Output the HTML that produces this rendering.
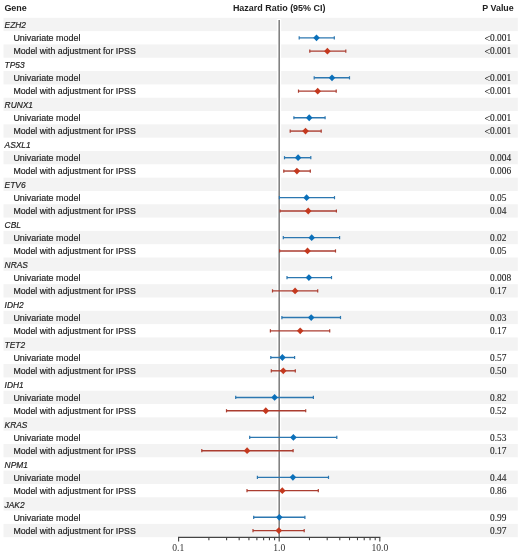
<!DOCTYPE html><html><head><meta charset="utf-8"><style>html,body{margin:0;padding:0;background:#fff;}svg{display:block;will-change:transform;}</style></head><body>
<svg width="520" height="552" viewBox="0 0 520 552">
<rect x="0" y="0" width="520" height="552" fill="#fff"/>
<rect x="3.5" y="17.80" width="514.30" height="13.318" fill="#f3f3f3"/>
<rect x="3.5" y="44.44" width="514.30" height="13.318" fill="#f3f3f3"/>
<rect x="3.5" y="71.07" width="514.30" height="13.318" fill="#f3f3f3"/>
<rect x="3.5" y="97.71" width="514.30" height="13.318" fill="#f3f3f3"/>
<rect x="3.5" y="124.34" width="514.30" height="13.318" fill="#f3f3f3"/>
<rect x="3.5" y="150.98" width="514.30" height="13.318" fill="#f3f3f3"/>
<rect x="3.5" y="177.62" width="514.30" height="13.318" fill="#f3f3f3"/>
<rect x="3.5" y="204.25" width="514.30" height="13.318" fill="#f3f3f3"/>
<rect x="3.5" y="230.89" width="514.30" height="13.318" fill="#f3f3f3"/>
<rect x="3.5" y="257.52" width="514.30" height="13.318" fill="#f3f3f3"/>
<rect x="3.5" y="284.16" width="514.30" height="13.318" fill="#f3f3f3"/>
<rect x="3.5" y="310.80" width="514.30" height="13.318" fill="#f3f3f3"/>
<rect x="3.5" y="337.43" width="514.30" height="13.318" fill="#f3f3f3"/>
<rect x="3.5" y="364.07" width="514.30" height="13.318" fill="#f3f3f3"/>
<rect x="3.5" y="390.70" width="514.30" height="13.318" fill="#f3f3f3"/>
<rect x="3.5" y="417.34" width="514.30" height="13.318" fill="#f3f3f3"/>
<rect x="3.5" y="443.98" width="514.30" height="13.318" fill="#f3f3f3"/>
<rect x="3.5" y="470.61" width="514.30" height="13.318" fill="#f3f3f3"/>
<rect x="3.5" y="497.25" width="514.30" height="13.318" fill="#f3f3f3"/>
<rect x="3.5" y="523.88" width="514.30" height="13.318" fill="#f3f3f3"/>
<g font-family="Liberation Sans, sans-serif" font-weight="bold" font-size="9.4" fill="#222">
<text x="4.4" y="11" textLength="22.4" lengthAdjust="spacingAndGlyphs">Gene</text>
<text x="232.90" y="11" textLength="92.6" lengthAdjust="spacingAndGlyphs">Hazard Ratio (95% CI)</text>
<text x="482.3" y="11" textLength="31.4" lengthAdjust="spacingAndGlyphs">P Value</text>
</g>
<g font-family="Liberation Sans, sans-serif" font-size="8.7" fill="#222" stroke="#222" stroke-width="0.18">
<text x="4.6" y="27.57" font-style="italic" font-size="8.4">EZH2</text>
<text x="13.4" y="40.90" textLength="67.0" lengthAdjust="spacingAndGlyphs">Univariate model</text>
<text x="13.4" y="54.24" textLength="122.4" lengthAdjust="spacingAndGlyphs">Model with adjustment for IPSS</text>
<text x="4.6" y="67.57" font-style="italic" font-size="8.4">TP53</text>
<text x="13.4" y="80.90" textLength="67.0" lengthAdjust="spacingAndGlyphs">Univariate model</text>
<text x="13.4" y="94.23" textLength="122.4" lengthAdjust="spacingAndGlyphs">Model with adjustment for IPSS</text>
<text x="4.6" y="107.57" font-style="italic" font-size="8.4">RUNX1</text>
<text x="13.4" y="120.90" textLength="67.0" lengthAdjust="spacingAndGlyphs">Univariate model</text>
<text x="13.4" y="134.23" textLength="122.4" lengthAdjust="spacingAndGlyphs">Model with adjustment for IPSS</text>
<text x="4.6" y="147.57" font-style="italic" font-size="8.4">ASXL1</text>
<text x="13.4" y="160.90" textLength="67.0" lengthAdjust="spacingAndGlyphs">Univariate model</text>
<text x="13.4" y="174.23" textLength="122.4" lengthAdjust="spacingAndGlyphs">Model with adjustment for IPSS</text>
<text x="4.6" y="187.57" font-style="italic" font-size="8.4">ETV6</text>
<text x="13.4" y="200.90" textLength="67.0" lengthAdjust="spacingAndGlyphs">Univariate model</text>
<text x="13.4" y="214.23" textLength="122.4" lengthAdjust="spacingAndGlyphs">Model with adjustment for IPSS</text>
<text x="4.6" y="227.56" font-style="italic" font-size="8.4">CBL</text>
<text x="13.4" y="240.90" textLength="67.0" lengthAdjust="spacingAndGlyphs">Univariate model</text>
<text x="13.4" y="254.23" textLength="122.4" lengthAdjust="spacingAndGlyphs">Model with adjustment for IPSS</text>
<text x="4.6" y="267.56" font-style="italic" font-size="8.4">NRAS</text>
<text x="13.4" y="280.90" textLength="67.0" lengthAdjust="spacingAndGlyphs">Univariate model</text>
<text x="13.4" y="294.23" textLength="122.4" lengthAdjust="spacingAndGlyphs">Model with adjustment for IPSS</text>
<text x="4.6" y="307.56" font-style="italic" font-size="8.4">IDH2</text>
<text x="13.4" y="320.90" textLength="67.0" lengthAdjust="spacingAndGlyphs">Univariate model</text>
<text x="13.4" y="334.23" textLength="122.4" lengthAdjust="spacingAndGlyphs">Model with adjustment for IPSS</text>
<text x="4.6" y="347.56" font-style="italic" font-size="8.4">TET2</text>
<text x="13.4" y="360.90" textLength="67.0" lengthAdjust="spacingAndGlyphs">Univariate model</text>
<text x="13.4" y="374.23" textLength="122.4" lengthAdjust="spacingAndGlyphs">Model with adjustment for IPSS</text>
<text x="4.6" y="387.56" font-style="italic" font-size="8.4">IDH1</text>
<text x="13.4" y="400.89" textLength="67.0" lengthAdjust="spacingAndGlyphs">Univariate model</text>
<text x="13.4" y="414.23" textLength="122.4" lengthAdjust="spacingAndGlyphs">Model with adjustment for IPSS</text>
<text x="4.6" y="427.56" font-style="italic" font-size="8.4">KRAS</text>
<text x="13.4" y="440.89" textLength="67.0" lengthAdjust="spacingAndGlyphs">Univariate model</text>
<text x="13.4" y="454.23" textLength="122.4" lengthAdjust="spacingAndGlyphs">Model with adjustment for IPSS</text>
<text x="4.6" y="467.56" font-style="italic" font-size="8.4">NPM1</text>
<text x="13.4" y="480.89" textLength="67.0" lengthAdjust="spacingAndGlyphs">Univariate model</text>
<text x="13.4" y="494.23" textLength="122.4" lengthAdjust="spacingAndGlyphs">Model with adjustment for IPSS</text>
<text x="4.6" y="507.56" font-style="italic" font-size="8.4">JAK2</text>
<text x="13.4" y="520.89" textLength="67.0" lengthAdjust="spacingAndGlyphs">Univariate model</text>
<text x="13.4" y="534.22" textLength="122.4" lengthAdjust="spacingAndGlyphs">Model with adjustment for IPSS</text>
</g>
<g font-family="Liberation Serif, serif" font-size="9.4" fill="#222" stroke="#222" stroke-width="0.1">
<text x="490.2" y="42.10" text-anchor="end" font-size="10.2">&lt;</text>
<text x="490" y="40.90">0.001</text>
<text x="490.2" y="55.44" text-anchor="end" font-size="10.2">&lt;</text>
<text x="490" y="54.24">0.001</text>
<text x="490.2" y="82.10" text-anchor="end" font-size="10.2">&lt;</text>
<text x="490" y="80.90">0.001</text>
<text x="490.2" y="95.44" text-anchor="end" font-size="10.2">&lt;</text>
<text x="490" y="94.24">0.001</text>
<text x="490.2" y="122.10" text-anchor="end" font-size="10.2">&lt;</text>
<text x="490" y="120.90">0.001</text>
<text x="490.2" y="135.43" text-anchor="end" font-size="10.2">&lt;</text>
<text x="490" y="134.23">0.001</text>
<text x="490" y="160.90">0.004</text>
<text x="490" y="174.23">0.006</text>
<text x="490" y="200.90">0.05</text>
<text x="490" y="214.23">0.04</text>
<text x="490" y="240.90">0.02</text>
<text x="490" y="254.23">0.05</text>
<text x="490" y="280.90">0.008</text>
<text x="490" y="294.23">0.17</text>
<text x="490" y="320.90">0.03</text>
<text x="490" y="334.23">0.17</text>
<text x="490" y="360.89">0.57</text>
<text x="490" y="374.23">0.50</text>
<text x="490" y="400.89">0.82</text>
<text x="490" y="414.23">0.52</text>
<text x="490" y="440.89">0.53</text>
<text x="490" y="454.23">0.17</text>
<text x="490" y="480.89">0.44</text>
<text x="490" y="494.23">0.86</text>
<text x="490" y="520.89">0.99</text>
<text x="490" y="534.22">0.97</text>
</g>
<rect x="276.8" y="19.0" width="4.4" height="518.20" fill="#fff"/>
<line x1="279.2" y1="19.9" x2="279.2" y2="537.4" stroke="#828282" stroke-width="1.6"/>
<line x1="178.0" y1="537.4" x2="380.4" y2="537.4" stroke="#444" stroke-width="1.3"/>
<line x1="178.60" y1="537.4" x2="178.60" y2="541.6" stroke="#444" stroke-width="1.1"/>
<line x1="208.88" y1="537.4" x2="208.88" y2="540.1999999999999" stroke="#444" stroke-width="1.1"/>
<line x1="226.60" y1="537.4" x2="226.60" y2="540.1999999999999" stroke="#444" stroke-width="1.1"/>
<line x1="239.17" y1="537.4" x2="239.17" y2="540.1999999999999" stroke="#444" stroke-width="1.1"/>
<line x1="248.92" y1="537.4" x2="248.92" y2="540.1999999999999" stroke="#444" stroke-width="1.1"/>
<line x1="256.88" y1="537.4" x2="256.88" y2="540.1999999999999" stroke="#444" stroke-width="1.1"/>
<line x1="263.62" y1="537.4" x2="263.62" y2="540.1999999999999" stroke="#444" stroke-width="1.1"/>
<line x1="269.45" y1="537.4" x2="269.45" y2="540.1999999999999" stroke="#444" stroke-width="1.1"/>
<line x1="274.60" y1="537.4" x2="274.60" y2="540.1999999999999" stroke="#444" stroke-width="1.1"/>
<line x1="279.20" y1="537.4" x2="279.20" y2="541.6" stroke="#444" stroke-width="1.1"/>
<line x1="309.48" y1="537.4" x2="309.48" y2="540.1999999999999" stroke="#444" stroke-width="1.1"/>
<line x1="327.20" y1="537.4" x2="327.20" y2="540.1999999999999" stroke="#444" stroke-width="1.1"/>
<line x1="339.77" y1="537.4" x2="339.77" y2="540.1999999999999" stroke="#444" stroke-width="1.1"/>
<line x1="349.52" y1="537.4" x2="349.52" y2="540.1999999999999" stroke="#444" stroke-width="1.1"/>
<line x1="357.48" y1="537.4" x2="357.48" y2="540.1999999999999" stroke="#444" stroke-width="1.1"/>
<line x1="364.22" y1="537.4" x2="364.22" y2="540.1999999999999" stroke="#444" stroke-width="1.1"/>
<line x1="370.05" y1="537.4" x2="370.05" y2="540.1999999999999" stroke="#444" stroke-width="1.1"/>
<line x1="375.20" y1="537.4" x2="375.20" y2="540.1999999999999" stroke="#444" stroke-width="1.1"/>
<line x1="379.80" y1="537.4" x2="379.80" y2="541.6" stroke="#444" stroke-width="1.1"/>
<g font-family="Liberation Serif, serif" font-size="9.6" fill="#333" text-anchor="middle">
<text x="178.20" y="550.5">0.1</text>
<text x="279.20" y="550.5">1.0</text>
<text x="379.80" y="550.5">10.0</text>
</g>
<line x1="299.20" y1="37.86" x2="334.30" y2="37.86" stroke="#2c77b0" stroke-width="1.4"/>
<line x1="299.20" y1="36.26" x2="299.20" y2="39.46" stroke="#2c77b0" stroke-width="1.2"/>
<line x1="334.30" y1="36.26" x2="334.30" y2="39.46" stroke="#2c77b0" stroke-width="1.2"/>
<path d="M313.20 37.86L316.50 34.46L319.80 37.86L316.50 41.26Z" fill="#0b70ba"/>
<line x1="309.80" y1="51.17" x2="345.80" y2="51.17" stroke="#ab3d30" stroke-width="1.4"/>
<line x1="309.80" y1="49.57" x2="309.80" y2="52.77" stroke="#ab3d30" stroke-width="1.2"/>
<line x1="345.80" y1="49.57" x2="345.80" y2="52.77" stroke="#ab3d30" stroke-width="1.2"/>
<path d="M324.10 51.17L327.40 47.77L330.70 51.17L327.40 54.57Z" fill="#c4391f"/>
<line x1="314.20" y1="77.81" x2="349.50" y2="77.81" stroke="#2c77b0" stroke-width="1.4"/>
<line x1="314.20" y1="76.21" x2="314.20" y2="79.41" stroke="#2c77b0" stroke-width="1.2"/>
<line x1="349.50" y1="76.21" x2="349.50" y2="79.41" stroke="#2c77b0" stroke-width="1.2"/>
<path d="M328.70 77.81L332.00 74.41L335.30 77.81L332.00 81.21Z" fill="#0b70ba"/>
<line x1="298.50" y1="91.13" x2="336.20" y2="91.13" stroke="#ab3d30" stroke-width="1.4"/>
<line x1="298.50" y1="89.53" x2="298.50" y2="92.73" stroke="#ab3d30" stroke-width="1.2"/>
<line x1="336.20" y1="89.53" x2="336.20" y2="92.73" stroke="#ab3d30" stroke-width="1.2"/>
<path d="M314.40 91.13L317.70 87.73L321.00 91.13L317.70 94.53Z" fill="#c4391f"/>
<line x1="293.90" y1="117.77" x2="325.10" y2="117.77" stroke="#2c77b0" stroke-width="1.4"/>
<line x1="293.90" y1="116.17" x2="293.90" y2="119.36" stroke="#2c77b0" stroke-width="1.2"/>
<line x1="325.10" y1="116.17" x2="325.10" y2="119.36" stroke="#2c77b0" stroke-width="1.2"/>
<path d="M305.90 117.77L309.20 114.36L312.50 117.77L309.20 121.17Z" fill="#0b70ba"/>
<line x1="290.20" y1="131.08" x2="321.20" y2="131.08" stroke="#ab3d30" stroke-width="1.4"/>
<line x1="290.20" y1="129.48" x2="290.20" y2="132.68" stroke="#ab3d30" stroke-width="1.2"/>
<line x1="321.20" y1="129.48" x2="321.20" y2="132.68" stroke="#ab3d30" stroke-width="1.2"/>
<path d="M302.20 131.08L305.50 127.68L308.80 131.08L305.50 134.48Z" fill="#c4391f"/>
<line x1="284.50" y1="157.72" x2="310.80" y2="157.72" stroke="#2c77b0" stroke-width="1.4"/>
<line x1="284.50" y1="156.12" x2="284.50" y2="159.32" stroke="#2c77b0" stroke-width="1.2"/>
<line x1="310.80" y1="156.12" x2="310.80" y2="159.32" stroke="#2c77b0" stroke-width="1.2"/>
<path d="M294.80 157.72L298.10 154.32L301.40 157.72L298.10 161.12Z" fill="#0b70ba"/>
<line x1="283.80" y1="171.04" x2="310.30" y2="171.04" stroke="#ab3d30" stroke-width="1.4"/>
<line x1="283.80" y1="169.44" x2="283.80" y2="172.64" stroke="#ab3d30" stroke-width="1.2"/>
<line x1="310.30" y1="169.44" x2="310.30" y2="172.64" stroke="#ab3d30" stroke-width="1.2"/>
<path d="M293.60 171.04L296.90 167.64L300.20 171.04L296.90 174.44Z" fill="#c4391f"/>
<line x1="279.40" y1="197.67" x2="334.50" y2="197.67" stroke="#2c77b0" stroke-width="1.4"/>
<line x1="279.40" y1="196.07" x2="279.40" y2="199.27" stroke="#2c77b0" stroke-width="1.2"/>
<line x1="334.50" y1="196.07" x2="334.50" y2="199.27" stroke="#2c77b0" stroke-width="1.2"/>
<path d="M303.30 197.67L306.60 194.27L309.90 197.67L306.60 201.07Z" fill="#0b70ba"/>
<line x1="280.10" y1="210.99" x2="336.40" y2="210.99" stroke="#ab3d30" stroke-width="1.4"/>
<line x1="280.10" y1="209.39" x2="280.10" y2="212.59" stroke="#ab3d30" stroke-width="1.2"/>
<line x1="336.40" y1="209.39" x2="336.40" y2="212.59" stroke="#ab3d30" stroke-width="1.2"/>
<path d="M304.90 210.99L308.20 207.59L311.50 210.99L308.20 214.39Z" fill="#c4391f"/>
<line x1="283.30" y1="237.63" x2="339.60" y2="237.63" stroke="#2c77b0" stroke-width="1.4"/>
<line x1="283.30" y1="236.03" x2="283.30" y2="239.23" stroke="#2c77b0" stroke-width="1.2"/>
<line x1="339.60" y1="236.03" x2="339.60" y2="239.23" stroke="#2c77b0" stroke-width="1.2"/>
<path d="M308.40 237.63L311.70 234.23L315.00 237.63L311.70 241.03Z" fill="#0b70ba"/>
<line x1="279.60" y1="250.95" x2="335.50" y2="250.95" stroke="#ab3d30" stroke-width="1.4"/>
<line x1="279.60" y1="249.35" x2="279.60" y2="252.55" stroke="#ab3d30" stroke-width="1.2"/>
<line x1="335.50" y1="249.35" x2="335.50" y2="252.55" stroke="#ab3d30" stroke-width="1.2"/>
<path d="M304.20 250.95L307.50 247.55L310.80 250.95L307.50 254.35Z" fill="#c4391f"/>
<line x1="287.00" y1="277.58" x2="331.50" y2="277.58" stroke="#2c77b0" stroke-width="1.4"/>
<line x1="287.00" y1="275.98" x2="287.00" y2="279.18" stroke="#2c77b0" stroke-width="1.2"/>
<line x1="331.50" y1="275.98" x2="331.50" y2="279.18" stroke="#2c77b0" stroke-width="1.2"/>
<path d="M305.60 277.58L308.90 274.18L312.20 277.58L308.90 280.98Z" fill="#0b70ba"/>
<line x1="272.50" y1="290.90" x2="317.70" y2="290.90" stroke="#ab3d30" stroke-width="1.4"/>
<line x1="272.50" y1="289.30" x2="272.50" y2="292.50" stroke="#ab3d30" stroke-width="1.2"/>
<line x1="317.70" y1="289.30" x2="317.70" y2="292.50" stroke="#ab3d30" stroke-width="1.2"/>
<path d="M291.80 290.90L295.10 287.50L298.40 290.90L295.10 294.30Z" fill="#c4391f"/>
<line x1="281.90" y1="317.53" x2="340.50" y2="317.53" stroke="#2c77b0" stroke-width="1.4"/>
<line x1="281.90" y1="315.93" x2="281.90" y2="319.13" stroke="#2c77b0" stroke-width="1.2"/>
<line x1="340.50" y1="315.93" x2="340.50" y2="319.13" stroke="#2c77b0" stroke-width="1.2"/>
<path d="M307.90 317.53L311.20 314.13L314.50 317.53L311.20 320.93Z" fill="#0b70ba"/>
<line x1="270.40" y1="330.85" x2="329.70" y2="330.85" stroke="#ab3d30" stroke-width="1.4"/>
<line x1="270.40" y1="329.25" x2="270.40" y2="332.45" stroke="#ab3d30" stroke-width="1.2"/>
<line x1="329.70" y1="329.25" x2="329.70" y2="332.45" stroke="#ab3d30" stroke-width="1.2"/>
<path d="M296.90 330.85L300.20 327.45L303.50 330.85L300.20 334.25Z" fill="#c4391f"/>
<line x1="270.80" y1="357.49" x2="294.60" y2="357.49" stroke="#2c77b0" stroke-width="1.4"/>
<line x1="270.80" y1="355.89" x2="270.80" y2="359.09" stroke="#2c77b0" stroke-width="1.2"/>
<line x1="294.60" y1="355.89" x2="294.60" y2="359.09" stroke="#2c77b0" stroke-width="1.2"/>
<path d="M279.10 357.49L282.40 354.09L285.70 357.49L282.40 360.89Z" fill="#0b70ba"/>
<line x1="271.30" y1="370.81" x2="295.30" y2="370.81" stroke="#ab3d30" stroke-width="1.4"/>
<line x1="271.30" y1="369.21" x2="271.30" y2="372.41" stroke="#ab3d30" stroke-width="1.2"/>
<line x1="295.30" y1="369.21" x2="295.30" y2="372.41" stroke="#ab3d30" stroke-width="1.2"/>
<path d="M280.00 370.81L283.30 367.41L286.60 370.81L283.30 374.21Z" fill="#c4391f"/>
<line x1="235.70" y1="397.44" x2="313.40" y2="397.44" stroke="#2c77b0" stroke-width="1.4"/>
<line x1="235.70" y1="395.84" x2="235.70" y2="399.04" stroke="#2c77b0" stroke-width="1.2"/>
<line x1="313.40" y1="395.84" x2="313.40" y2="399.04" stroke="#2c77b0" stroke-width="1.2"/>
<path d="M271.30 397.44L274.60 394.04L277.90 397.44L274.60 400.84Z" fill="#0b70ba"/>
<line x1="226.50" y1="410.76" x2="305.70" y2="410.76" stroke="#ab3d30" stroke-width="1.4"/>
<line x1="226.50" y1="409.16" x2="226.50" y2="412.36" stroke="#ab3d30" stroke-width="1.2"/>
<line x1="305.70" y1="409.16" x2="305.70" y2="412.36" stroke="#ab3d30" stroke-width="1.2"/>
<path d="M262.50 410.76L265.80 407.36L269.10 410.76L265.80 414.16Z" fill="#c4391f"/>
<line x1="249.70" y1="437.40" x2="336.80" y2="437.40" stroke="#2c77b0" stroke-width="1.4"/>
<line x1="249.70" y1="435.80" x2="249.70" y2="439.00" stroke="#2c77b0" stroke-width="1.2"/>
<line x1="336.80" y1="435.80" x2="336.80" y2="439.00" stroke="#2c77b0" stroke-width="1.2"/>
<path d="M290.10 437.40L293.40 434.00L296.70 437.40L293.40 440.80Z" fill="#0b70ba"/>
<line x1="201.80" y1="450.71" x2="293.10" y2="450.71" stroke="#ab3d30" stroke-width="1.4"/>
<line x1="201.80" y1="449.11" x2="201.80" y2="452.31" stroke="#ab3d30" stroke-width="1.2"/>
<line x1="293.10" y1="449.11" x2="293.10" y2="452.31" stroke="#ab3d30" stroke-width="1.2"/>
<path d="M243.80 450.71L247.10 447.31L250.40 450.71L247.10 454.11Z" fill="#c4391f"/>
<line x1="257.40" y1="477.35" x2="328.50" y2="477.35" stroke="#2c77b0" stroke-width="1.4"/>
<line x1="257.40" y1="475.75" x2="257.40" y2="478.95" stroke="#2c77b0" stroke-width="1.2"/>
<line x1="328.50" y1="475.75" x2="328.50" y2="478.95" stroke="#2c77b0" stroke-width="1.2"/>
<path d="M289.60 477.35L292.90 473.95L296.20 477.35L292.90 480.75Z" fill="#0b70ba"/>
<line x1="247.00" y1="490.67" x2="318.30" y2="490.67" stroke="#ab3d30" stroke-width="1.4"/>
<line x1="247.00" y1="489.07" x2="247.00" y2="492.27" stroke="#ab3d30" stroke-width="1.2"/>
<line x1="318.30" y1="489.07" x2="318.30" y2="492.27" stroke="#ab3d30" stroke-width="1.2"/>
<path d="M279.00 490.67L282.30 487.27L285.60 490.67L282.30 494.07Z" fill="#c4391f"/>
<line x1="253.70" y1="517.31" x2="304.90" y2="517.31" stroke="#2c77b0" stroke-width="1.4"/>
<line x1="253.70" y1="515.71" x2="253.70" y2="518.91" stroke="#2c77b0" stroke-width="1.2"/>
<line x1="304.90" y1="515.71" x2="304.90" y2="518.91" stroke="#2c77b0" stroke-width="1.2"/>
<path d="M276.00 517.31L279.30 513.91L282.60 517.31L279.30 520.71Z" fill="#0b70ba"/>
<line x1="253.00" y1="530.62" x2="304.20" y2="530.62" stroke="#ab3d30" stroke-width="1.4"/>
<line x1="253.00" y1="529.02" x2="253.00" y2="532.22" stroke="#ab3d30" stroke-width="1.2"/>
<line x1="304.20" y1="529.02" x2="304.20" y2="532.22" stroke="#ab3d30" stroke-width="1.2"/>
<path d="M275.50 530.62L278.80 527.22L282.10 530.62L278.80 534.02Z" fill="#c4391f"/>
</svg></body></html>
